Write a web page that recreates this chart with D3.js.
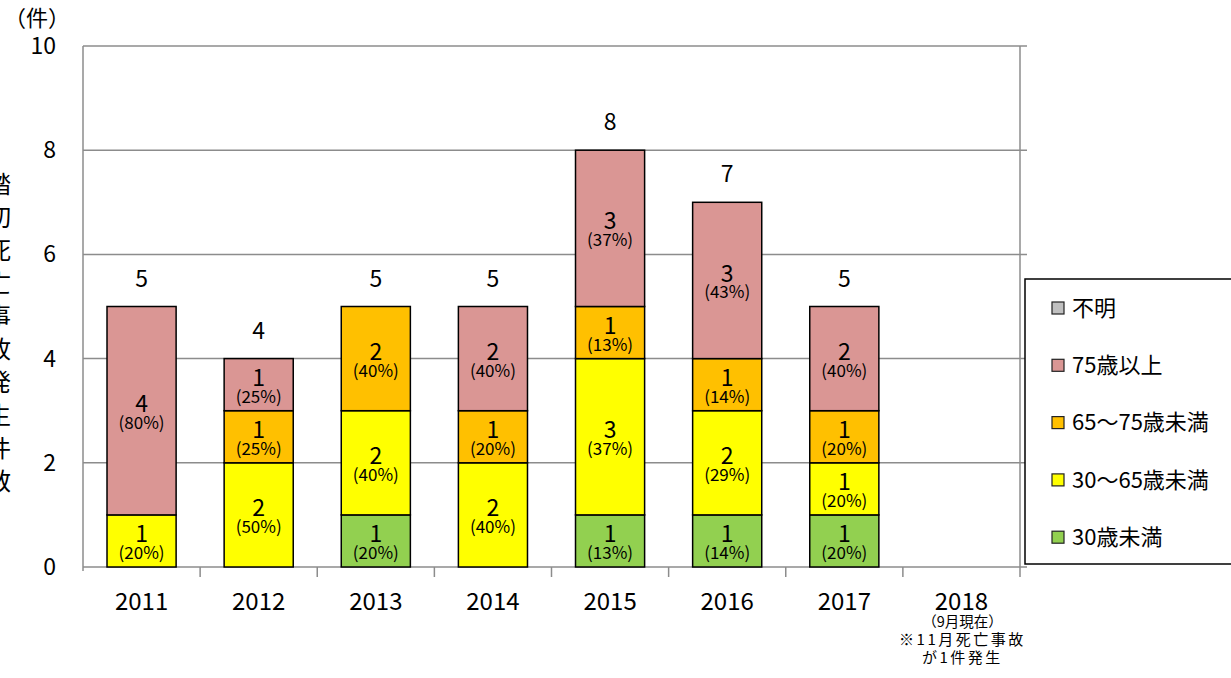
<!DOCTYPE html>
<html>
<head>
<meta charset="utf-8">
<script src="https://cdn.jsdelivr.net/npm/d3@7"></script>
<style>
    body { margin: 0; background: #fff; }
    svg { display: block; font-family: "Noto Sans CJK JP", "Noto Sans", sans-serif; }
</style>
</head>
<body>
<div id="chart"></div>
<script>
// years on the x axis
const years = ['2011', '2012', '2013', '2014', '2015', '2016', '2017', '2018']
// series, bottom to top
const groups = ['30歳未満', '30～65歳未満', '65～75歳未満', '75歳以上', '不明']
const groupColors = ['#92d050', '#ffff00', '#ffc000', '#da9694', '#c0c0c0']

const under30 = [0, 0, 1, 0, 1, 1, 1, 0]
const age30to65 = [1, 2, 2, 2, 3, 2, 1, 0]
const age65to75 = [0, 1, 2, 1, 1, 1, 1, 0]
const over75 = [4, 1, 0, 2, 3, 3, 2, 0]
const unknown = [0, 0, 0, 0, 0, 0, 0, 0]

// share labels as printed on the chart
const pctUnder30 = ['', '', '20%', '', '13%', '14%', '20%', '']
const pct30to65 = ['20%', '50%', '40%', '40%', '37%', '29%', '20%', '']
const pct65to75 = ['', '25%', '40%', '20%', '13%', '14%', '20%', '']
const pctOver75 = ['80%', '25%', '', '40%', '37%', '43%', '40%', '']
const pctUnknown = ['', '', '', '', '', '', '', '']

const yTicks = [0, 2, 4, 6, 8, 10]
const yTitle = '踏切死亡事故発生件数'
const noteLines = ['（9月現在）', '※11月死亡事故', 'が1件発生']

const width = 1231, height = 678
const margin = {top: 46, right: 211, bottom: 111, left: 83}
const plotRight = 1020

const seriesValues = [under30, age30to65, age65to75, over75, unknown]
const seriesPct = [pctUnder30, pct30to65, pct65to75, pctOver75, pctUnknown]

const rows = years.map((yr, i) => {
    const row = {year: yr}
    groups.forEach((g, k) => { row[g] = seriesValues[k][i] })
    return row
})
const total = r => d3.sum(groups, g => r[g])

const svg = d3.select('#chart').append('svg')
    .attr('width', width)
    .attr('height', height)

const x = d3.scaleBand()
    .domain(years)
    .range([margin.left, plotRight])
    .paddingInner(0.41)
    .paddingOuter(0.205)

const y = d3.scaleLinear()
    .domain([0, 10])
    .range([height - margin.bottom, margin.top])

const gridColor = '#8c8c8c'

// horizontal grid lines
svg.append('g')
    .selectAll('line')
    .data(yTicks)
    .join('line')
    .attr('x1', margin.left)
    .attr('x2', plotRight + 7)
    .attr('y1', d => y(d))
    .attr('y2', d => y(d))
    .attr('stroke', gridColor)
    .attr('stroke-width', 1.5)

// left axis line
svg.append('line')
    .attr('x1', margin.left).attr('x2', margin.left)
    .attr('y1', y(10)).attr('y2', y(0) + 4)
    .attr('stroke', gridColor).attr('stroke-width', 1.5)

// category boundary ticks below the axis (last one runs full height)
const bounds = d3.range(1, years.length + 1).map(i => margin.left + i * (plotRight - margin.left) / years.length)
svg.append('g')
    .selectAll('line')
    .data(bounds)
    .join('line')
    .attr('x1', d => d).attr('x2', d => d)
    .attr('y1', (d, i) => i === years.length - 1 ? y(10) : y(0))
    .attr('y2', y(0) + 10)
    .attr('stroke', gridColor)
    .attr('stroke-width', 1.5)

// y tick labels
svg.append('g')
    .selectAll('text')
    .data(yTicks)
    .join('text')
    .attr('x', 56)
    .attr('y', d => y(d))
    .attr('dy', '0.35em')
    .attr('text-anchor', 'end')
    .attr('font-size', 23)
    .text(d => d)

svg.append('text')
    .attr('x', 37)
    .attr('y', 26)
    .attr('text-anchor', 'middle')
    .attr('font-size', 22)
    .text('（件）')

// y axis title, clipped at the page edge like the original
svg.append('text')
    .attr('x', -1)
    .attr('y', 337)
    .attr('text-anchor', 'middle')
    .attr('font-size', 24)
    .attr('letter-spacing', 9)
    .style('writing-mode', 'vertical-rl')
    .text(yTitle)

// x labels
svg.append('g')
    .selectAll('text')
    .data(years)
    .join('text')
    .attr('x', d => x(d) + x.bandwidth() / 2)
    .attr('y', 610)
    .attr('text-anchor', 'middle')
    .attr('font-size', 24)
    .text(d => d)

svg.append('g')
    .selectAll('text')
    .data(noteLines)
    .join('text')
    .attr('x', x('2018') + x.bandwidth() / 2 + 1)
    .attr('y', (d, i) => 627 + i * 18)
    .attr('text-anchor', 'middle')
    .attr('font-size', (d, i) => i === 0 ? 14.5 : 15)
    .attr('letter-spacing', (d, i) => i === 0 ? 0 : 2.5)
    .text(d => d)

// stacked bars
const stacked = d3.stack().keys(groups)(rows)

const layers = svg.append('g')
    .selectAll('g')
    .data(stacked)
    .join('g')
    .attr('fill', (d, k) => groupColors[k])

layers.selectAll('rect')
    .data(d => d.filter(s => s[1] > s[0]))
    .join('rect')
    .attr('x', d => x(d.data.year))
    .attr('y', d => y(d[1]))
    .attr('width', x.bandwidth())
    .attr('height', d => y(d[0]) - y(d[1]))
    .attr('stroke', '#000')
    .attr('stroke-width', 1.5)

// segment labels: count with share below
stacked.forEach((layer, k) => {
    layer.forEach((s, i) => {
        if (s[1] <= s[0]) return
        const cx = x(s.data.year) + x.bandwidth() / 2
        const cy = (y(s[0]) + y(s[1])) / 2
        svg.append('text')
            .attr('x', cx)
            .attr('y', cy - 7)
            .attr('dy', '0.35em')
            .attr('text-anchor', 'middle')
            .attr('font-size', 23)
            .text(s[1] - s[0])
        svg.append('text')
            .attr('x', cx)
            .attr('y', cy + 12)
            .attr('dy', '0.35em')
            .attr('text-anchor', 'middle')
            .attr('font-size', 17)
            .text('(' + seriesPct[k][i] + ')')
    })
})

// totals above bars
svg.append('g')
    .selectAll('text')
    .data(rows.filter(r => total(r) > 0))
    .join('text')
    .attr('x', d => x(d.year) + x.bandwidth() / 2)
    .attr('y', d => y(total(d)) - 28)
    .attr('dy', '0.35em')
    .attr('text-anchor', 'middle')
    .attr('font-size', 23)
    .text(d => total(d))

// legend, top entry is 不明
const legend = svg.append('g')
legend.append('rect')
    .attr('x', 1025)
    .attr('y', 279)
    .attr('width', 220)
    .attr('height', 285)
    .attr('fill', '#fff')
    .attr('stroke', '#000')
    .attr('stroke-width', 1.5)

const legendOrder = groups.map((g, k) => k).reverse()
const entry = legend.selectAll('g.entry')
    .data(legendOrder)
    .join('g')
    .attr('class', 'entry')
    .attr('transform', (k, i) => `translate(1052, ${308 + i * 57.3})`)

entry.append('rect')
    .attr('x', 0)
    .attr('y', -6)
    .attr('width', 12)
    .attr('height', 12)
    .attr('fill', k => groupColors[k])
    .attr('stroke', '#222')
    .attr('stroke-width', 1.2)

entry.append('text')
    .attr('x', 20)
    .attr('dy', '0.35em')
    .attr('font-size', 22)
    .text(k => groups[k])
</script>
</body>
</html>
